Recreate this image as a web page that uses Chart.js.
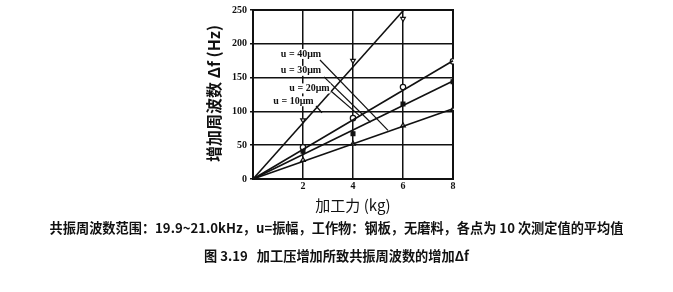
<!DOCTYPE html>
<html>
<head>
<meta charset="utf-8">
<script src="https://cdn.jsdelivr.net/npm/chart.js@4.4.0/dist/chart.umd.min.js"></script>
<style>
    html, body { margin: 0; padding: 0; background: #fff; }
    #wrap { position: relative; width: 673px; height: 292px; }
    #chart { position: absolute; left: 0; top: 0; }
    .cap {
        position: absolute; left: 0; width: 673px; text-align: center;
        font-family: "Noto Sans CJK SC", "Noto Sans", sans-serif;
        font-weight: bold; font-size: 13.2px; color: #111; white-space: nowrap;
    }
</style>
</head>
<body>
<div id="wrap">
    <canvas id="chart" width="673" height="292"></canvas>
    <div class="cap" style="top:218px;">共振周波数范围：19.9~21.0kHz，u=振幅，工作物：钢板，无磨料，各点为 10 次测定值的平均值</div>
    <div class="cap" style="top:246px;">图 3.19&nbsp;&nbsp;&nbsp;加工压增加所致共振周波数的增加Δf</div>
</div>
<script>
// measured points (kg, Hz)
const forceX = [2, 4, 6, 8];
const u40Points = [87, 175, 237, null];
const u30Points = [47, 90, 136, 174];
const u20Points = [41, 67, 111, 144];
const u10Points = [28, 52, 79, 103];

// fitted straight lines through origin: [x, y] ends
const u40Line = [[0, 0], [6.03, 250]];
const u30Line = [[0, 0], [8, 175]];
const u20Line = [[0, 0], [8, 145]];
const u10Line = [[0, 0], [8, 104]];

const xTicks = [0, 2, 4, 6, 8];
const yTicks = [0, 50, 100, 150, 200, 250];

// labels with leader lines (data units)
const seriesLabels = ['u = 40μm', 'u = 30μm', 'u = 20μm', 'u = 10μm'];
const labelAt = [[1.92, 185], [1.92, 160], [2.26, 134], [1.62, 115]];
const leaderFrom = [[2.68, 176], [2.84, 151], [3.15, 129], [2.52, 108]];
const leaderTo = [[5.4, 72], [4.7, 84], [4.28, 93], [2.76, 98]];

const xTitle = '加工力 (kg)';
const yTitle = '增加周波数 Δf (Hz)';

function toXY(xs, ys) {
    return xs.map((x, i) => ({ x: x, y: ys[i] })).filter(p => p.y !== null);
}
function toLine(pts) {
    return pts.map(p => ({ x: p[0], y: p[1] }));
}

const lineStyle = {
    type: 'line', borderColor: '#111', borderWidth: 1.6, pointRadius: 0,
    fill: false, showLine: true
};
const markStyle = {
    type: 'scatter', borderColor: '#111', borderWidth: 1.2, pointRadius: 2.7
};

const decorPlugin = {
    id: 'decor',
    beforeDatasetsDraw(chart) {
        const { ctx, chartArea: a } = chart;
        ctx.save();
        ctx.strokeStyle = '#111';
        ctx.lineWidth = 2;
        ctx.strokeRect(a.left, a.top, a.right - a.left, a.bottom - a.top);
        ctx.restore();
    },
    afterDatasetsDraw(chart) {
        const { ctx, chartArea: a, scales } = chart;
        const xs = scales.x, ys = scales.y;
        ctx.save();
        // leader lines
        ctx.strokeStyle = '#111';
        ctx.lineWidth = 1.2;
        leaderFrom.forEach((p, i) => {
            ctx.beginPath();
            ctx.moveTo(xs.getPixelForValue(p[0]), ys.getPixelForValue(p[1]));
            ctx.lineTo(xs.getPixelForValue(leaderTo[i][0]), ys.getPixelForValue(leaderTo[i][1]));
            ctx.stroke();
        });
        // series labels
        ctx.font = 'bold 10px "Liberation Serif", serif';
        ctx.textAlign = 'center';
        ctx.textBaseline = 'middle';
        seriesLabels.forEach((t, i) => {
            const px = xs.getPixelForValue(labelAt[i][0]);
            const py = ys.getPixelForValue(labelAt[i][1]);
            const w = ctx.measureText(t).width;
            ctx.fillStyle = '#fff';
            ctx.fillRect(px - w / 2 - 1, py - 5, w + 2, 10);
            ctx.fillStyle = '#111';
            ctx.fillText(t, px, py);
        });
        // axis titles
        ctx.font = '15px "Noto Sans CJK SC", serif';
        ctx.fillText(xTitle, (a.left + a.right) / 2, a.bottom + 26);
        ctx.translate(a.left - 39, (a.top + a.bottom) / 2 - 1);
        ctx.rotate(-Math.PI / 2);
        ctx.font = 'bold 16px "Noto Sans CJK SC", serif';
        ctx.fillText(yTitle, 0, 0);
        ctx.restore();
    }
};

new Chart(document.getElementById('chart').getContext('2d'), {
    data: {
        datasets: [
            Object.assign({ data: toLine(u40Line) }, lineStyle),
            Object.assign({ data: toLine(u30Line) }, lineStyle),
            Object.assign({ data: toLine(u20Line) }, lineStyle),
            Object.assign({ data: toLine(u10Line) }, lineStyle),
            Object.assign({ data: toXY(forceX, u40Points), pointStyle: 'triangle', rotation: 180, backgroundColor: '#fff' }, markStyle),
            Object.assign({ data: toXY(forceX, u30Points), pointStyle: 'circle', backgroundColor: '#fff' }, markStyle),
            Object.assign({ data: toXY(forceX, u20Points), pointStyle: 'rect', backgroundColor: '#111' }, markStyle),
            Object.assign({ data: toXY(forceX, u10Points), pointStyle: 'triangle', backgroundColor: '#fff' }, markStyle)
        ]
    },
    options: {
        responsive: false,
        animation: false,
        clip: 1,
        layout: { padding: { left: 0, right: 220, top: 10, bottom: 0 } },
        plugins: { legend: { display: false }, tooltip: { enabled: false } },
        scales: {
            x: {
                type: 'linear', min: 0, max: 8,
                afterFit: s => { s.height = 113; },
                afterBuildTicks: s => { s.ticks = xTicks.map(v => ({ value: v })); },
                grid: { color: '#111', lineWidth: 1.5, drawTicks: false },
                border: { color: '#111', width: 2 },
                ticks: {
                    padding: 1, color: '#111',
                    font: { family: '"Liberation Serif", serif', weight: 'bold', size: 10 },
                    callback: v => (v === 0 ? '' : v)
                }
            },
            y: {
                type: 'linear', min: 0, max: 250,
                afterFit: s => { s.width = 253; },
                afterBuildTicks: s => { s.ticks = yTicks.map(v => ({ value: v })); },
                grid: { color: '#111', lineWidth: 1.5, tickLength: 3 },
                border: { color: '#111', width: 2 },
                ticks: {
                    padding: 3, color: '#111',
                    font: { family: '"Liberation Serif", serif', weight: 'bold', size: 10 }
                }
            }
        }
    },
    plugins: [decorPlugin]
});
</script>
</body>
</html>
